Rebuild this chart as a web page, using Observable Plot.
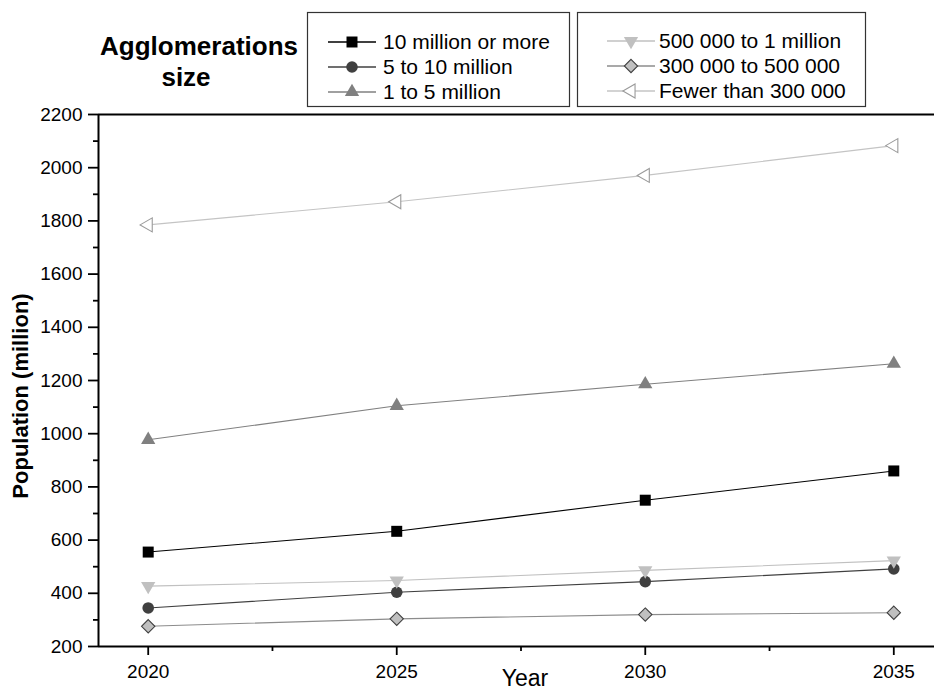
<!DOCTYPE html>
<html>
<head>
<meta charset="utf-8">
<script src="https://cdn.jsdelivr.net/npm/d3@7"></script>
<script src="https://cdn.jsdelivr.net/npm/@observablehq/plot@0.6"></script>
<style>
  html, body { margin: 0; padding: 0; background: #fff; overflow: hidden; }
  #wrap { position: relative; width: 934px; height: 691px; overflow: hidden;
          font-family: "Liberation Sans", Arial, sans-serif; }
  #chart svg { position: absolute; left: 0; top: 0; max-width: none; }
  #overlay { position: absolute; left: 0; top: 0; pointer-events: none; }
</style>
</head>
<body>
<div id="wrap">
  <div id="chart"></div>
  <svg id="overlay" width="934" height="691"></svg>
</div>
<script>
// Projection years
const years = [2020, 2025, 2030, 2035];

// Urban population by agglomeration size class (million)
const seriesNames = [
  "10 million or more",
  "5 to 10 million",
  "1 to 5 million",
  "500 000 to 1 million",
  "300 000 to 500 000",
  "Fewer than 300 000"
];
const pop10mPlus    = [555, 633, 750, 860];
const pop5to10m     = [345, 404, 444, 492];
const pop1to5m      = [977, 1105, 1186, 1263];
const pop500kTo1m   = [427, 448, 486, 523];
const pop300kTo500k = [276, 304, 320, 327];
const popUnder300k  = [1785, 1872, 1971, 2083];

// Axis ticks
const yTicks = [200, 400, 600, 800, 1000, 1200, 1400, 1600, 1800, 2000, 2200];
const yMinorTicks = [300, 500, 700, 900, 1100, 1300, 1500, 1700, 1900, 2100];
const xMinorTicks = [2022.5, 2027.5, 2032.5];

// Marker styling for each size class
const styles = [
  {symbol: "square",   rotate: 0,   r: 6.2, fill: "#000000", stroke: "none",    line: "#000000"},
  {symbol: "circle",   rotate: 0,   r: 5.8, fill: "#404040", stroke: "none",    line: "#404040"},
  {symbol: "triangle", rotate: 0,   r: 5.3, fill: "#808080", stroke: "none",    line: "#808080"},
  {symbol: "triangle", rotate: 180, r: 5.3, fill: "#c0c0c0", stroke: "none",    line: "#c0c0c0"},
  {symbol: "diamond2", rotate: 0,   r: 6.0, fill: "#c0c0c0", stroke: "#404040", line: "#8c8c8c"},
  {symbol: "triangle", rotate: -90, r: 5.2, fill: "#ffffff", stroke: "#9a9a9a", line: "#c4c4c4"}
];
const values = [pop10mPlus, pop5to10m, pop1to5m, pop500kTo1m, pop300kTo500k, popUnder300k];

const series = seriesNames.map((name, k) => ({
  name, ...styles[k],
  rows: years.map((year, i) => ({year, value: values[k][i], group: name}))
}));

const axisFont = {fontSize: 19, fontFamily: "Liberation Sans, Arial, sans-serif"};

const chart = Plot.plot({
  width: 944,
  height: 691,
  marginLeft: 98,
  marginRight: 1,
  marginTop: 114,
  marginBottom: 45,
  style: {background: "transparent", color: "#000", fontFamily: "Liberation Sans, Arial, sans-serif"},
  x: {domain: [2019, 2036]},
  y: {domain: [200, 2200]},
  marks: [
    // frame lines
    Plot.ruleX([2019], {stroke: "#000", strokeWidth: 2}),
    Plot.ruleX([2036], {stroke: "#000", strokeWidth: 2}),
    Plot.ruleY([200], {stroke: "#000", strokeWidth: 2}),
    Plot.ruleY([2200], {stroke: "#000", strokeWidth: 2}),
    // y axis
    Plot.axisY({ticks: yTicks, tickSize: 10, tickPadding: 6, tickFormat: d => String(d),
                label: null, strokeWidth: 1.8, ...axisFont}),
    Plot.axisY({ticks: yMinorTicks, tickSize: 5, tickFormat: () => "", label: null, strokeWidth: 1.8}),
    Plot.axisY({anchor: "right", ticks: yTicks, tickSize: -10, tickFormat: () => "", label: null, strokeWidth: 1.8}),
    // x axis
    Plot.axisX({ticks: years, tickSize: 9, tickPadding: 9, tickFormat: d => String(d),
                label: null, strokeWidth: 1.8, ...axisFont}),
    Plot.axisX({ticks: xMinorTicks, tickSize: 5, tickFormat: () => "", label: null, strokeWidth: 1.8}),
    // series lines
    ...series.map(s => Plot.line(s.rows, {x: "year", y: "value", stroke: s.line, strokeWidth: 1.1})),
    // series markers
    ...series.map(s => Plot.dot(s.rows, {
      x: "year", y: "value", symbol: s.symbol, r: s.r, rotate: s.rotate,
      fill: s.fill, stroke: s.stroke, strokeWidth: s.stroke === "none" ? 0 : 1.1
    }))
  ]
});
document.getElementById("chart").append(chart);

// Titles and legend
const ov = d3.select("#overlay");
const font = "Liberation Sans, Arial, sans-serif";

ov.append("text").attr("x", 298).attr("y", 55).attr("text-anchor", "end")
  .attr("font-family", font).attr("font-size", 26).attr("font-weight", "bold")
  .text("Agglomerations");
ov.append("text").attr("x", 186).attr("y", 86).attr("text-anchor", "middle")
  .attr("font-family", font).attr("font-size", 26).attr("font-weight", "bold")
  .text("size");

ov.append("text").attr("transform", "translate(28,396) rotate(-90)").attr("text-anchor", "middle")
  .attr("font-family", font).attr("font-size", 22).attr("font-weight", "bold")
  .text("Population (million)");
ov.append("text").attr("x", 525).attr("y", 686).attr("text-anchor", "middle")
  .attr("font-family", font).attr("font-size", 23)
  .text("Year");

const symbolTypes = {square: d3.symbolSquare, circle: d3.symbolCircle, triangle: d3.symbolTriangle, diamond2: d3.symbolDiamond2};
const boxes = [
  {x: 307, w: 262, items: [0, 1, 2], sx1: 328, sx2: 376, tx: 383, ys: [42, 67, 92]},
  {x: 577, w: 288, items: [3, 4, 5], sx1: 607, sx2: 655, tx: 659, ys: [41, 66, 91]}
];
boxes.forEach(b => {
  ov.append("rect").attr("x", b.x + 0.5).attr("y", 12.5).attr("width", b.w).attr("height", 94)
    .attr("fill", "#fff").attr("stroke", "#333").attr("stroke-width", 1.2);
  b.items.forEach((k, j) => {
    const s = series[k], y = b.ys[j], cx = (b.sx1 + b.sx2) / 2;
    ov.append("line").attr("x1", b.sx1).attr("x2", b.sx2).attr("y1", y).attr("y2", y)
      .attr("stroke", s.line).attr("stroke-width", 1.3);
    ov.append("path")
      .attr("d", d3.symbol(symbolTypes[s.symbol], Math.PI * s.r * s.r)())
      .attr("transform", `translate(${cx},${y}) rotate(${s.rotate})`)
      .attr("fill", s.fill).attr("stroke", s.stroke).attr("stroke-width", s.stroke === "none" ? 0 : 1.1);
    ov.append("text").attr("x", b.tx).attr("y", y).attr("dy", "0.35em")
      .attr("font-family", font).attr("font-size", 21).text(s.name);
  });
});
</script>
</body>
</html>
